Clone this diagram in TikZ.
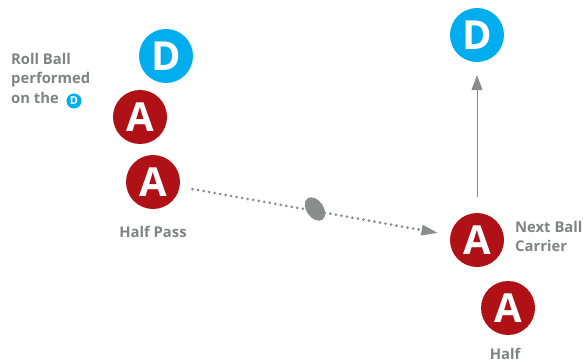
\documentclass[tikz,border=0pt]{standalone}
\usepackage{fontspec}
\setmainfont{Open Sans}
\usetikzlibrary{arrows.meta,shapes.geometric}
\definecolor{pred}{HTML}{B01117}
\definecolor{pblue}{HTML}{00AEEF}
\definecolor{tgray}{HTML}{808285}
\definecolor{agray}{HTML}{8A8C8E}
\tikzset{
  player/.style={circle, minimum size=54pt, inner sep=0pt, text=white, font=\fontsize{40}{40}\selectfont\bfseries},
  att/.style={player, fill=pred},
  def/.style={player, fill=pblue},
  lbl/.style={text=tgray, font=\fontsize{14.8}{19.5}\selectfont\bfseries, inner sep=0pt},
  arr/.style={draw=agray, -{Triangle[length=15pt,width=11pt]}, line width=1pt},
}
\begin{document}
\begin{tikzpicture}[x=1pt, y=-1pt]
\useasboundingbox (0,0) rectangle (585,363);
\node[def] (d1) at (166,56) {D};
\node[att] (a1) at (140,117) {A};
\node[att] (a2) at (153,182) {A};
\node[lbl] (hp) at (153,232) {Half Pass};
\node[lbl, anchor=north west, align=left] (roll) at (11,53) {Roll Ball\\performed\\on the};
\node[circle, fill=pblue, minimum size=15pt, inner sep=0pt, text=white, font=\fontsize{11}{11}\selectfont\bfseries] (dsmall) at (74,101) {D};
\node[def] (d2) at (477,35) {D};
\node[att] (an) at (477,240) {A};
\node[att] (ah) at (508,308) {A};
\node[lbl, anchor=west, align=left] (nbc) at (515,236.5) {Next Ball\\Carrier};
\node[lbl] (half) at (505,354) {Half};
\draw[draw=agray, line width=3pt, line cap=round, dash pattern=on 0pt off 5.6pt, shorten <=13pt, shorten >=13pt, -{Triangle[length=16pt,width=11pt,fill=agray,line width=0pt]}] (a2) -- (an);
\node[ellipse, fill=agray, minimum width=26pt, minimum height=17pt, inner sep=0pt, rotate=-55] (ball) at (315,209) {};
\draw[arr, shorten <=16pt, shorten >=13pt] (an) -- (d2);
\end{tikzpicture}
\end{document}
